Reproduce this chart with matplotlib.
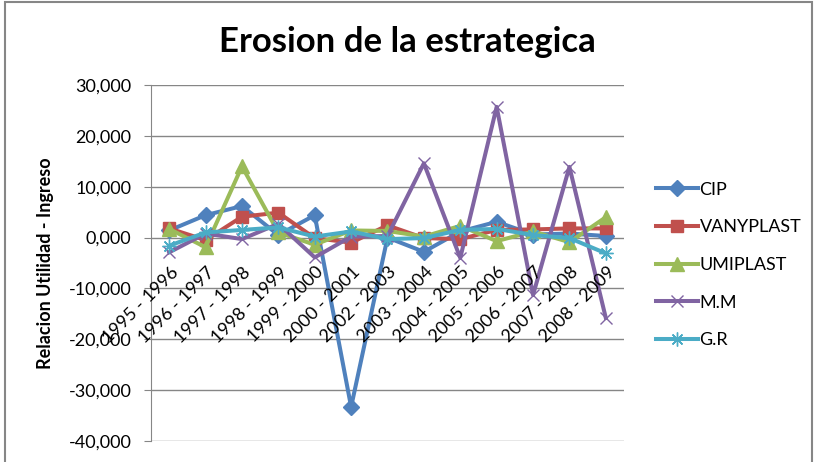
import matplotlib
matplotlib.use("Agg")
import matplotlib.pyplot as plt
from matplotlib.patches import Rectangle
from matplotlib.ticker import FuncFormatter

# datos
periodos = ["1995 - 1996", "1996 - 1997", "1997 - 1998", "1998 - 1999", "1999 - 2000",
            "2000 - 2001", "2002 - 2003", "2003 - 2004", "2004 - 2005", "2005 - 2006",
            "2006 - 2007", "2007 - 2008", "2008 - 2009"]
cip = [1.4, 4.4, 6.2, 0.5, 4.4, -33.3, 0.0, -2.8, 1.2, 3.1, 0.6, 0.8, 0.3]
vanyplast = [1.8, -0.5, 4.1, 4.9, -0.1, -1.0, 2.4, -0.1, -0.3, 1.5, 1.6, 1.8, 1.8]
umiplast = [1.7, -1.9, 14.0, 1.0, -1.4, 1.4, 1.3, 0.2, 2.3, -0.7, 1.2, -0.9, 4.0]
mm = [-2.9, 0.8, -0.3, 2.7, -3.9, 0.2, 0.3, 14.6, -4.0, 25.7, -11.3, 13.9, -15.8]
gr = [-1.6, 1.0, 1.5, 2.0, 0.2, 1.2, -0.3, -0.1, 1.5, 1.7, 0.5, -0.1, -3.1]

nombres = ["CIP", "VANYPLAST", "UMIPLAST", "M.M", "G.R"]
colores = ["#4F81BD", "#C0504D", "#9BBB59", "#8064A2", "#4BACC6"]
# estrella de Excel: aspa + linea vertical (asterisco de 8 brazos)
marcadores = ["D", "s", "^", "x", (8, 2, 0)]
tamanos = [8.5, 8, 9.5, 9, 10]

plt.rcParams['font.family'] = ["Lato", "DejaVu Sans"]

fig = plt.figure(figsize=(8.2, 4.62), dpi=100)
ax = fig.add_axes([151/820, 1 - 441/462, (624 - 151)/820, (441 - 85)/462])

x = list(range(len(periodos)))
series = [cip, vanyplast, umiplast, mm, gr]
handles = []
for vals, nombre, col, mk, ms in zip(series, nombres, colores, marcadores, tamanos):
    h, = ax.plot(x, vals, color=col, lw=2.9, marker=mk, ms=ms, mew=1.0,
                 mec=col, mfc=col, label=nombre, zorder=3)
    handles.append(h)

ax.set_xlim(-0.5, len(periodos) - 0.5)
ax.set_ylim(-40, 30)
ax.set_yticks(range(-40, 31, 10))
ax.yaxis.set_major_formatter(FuncFormatter(lambda v, p: f"{v:.3f}".replace(".", ",")))
ax.grid(axis="y", color="#868686", lw=1.0)
ax.set_axisbelow(True)
for s in ["top", "right", "bottom"]:
    ax.spines[s].set_visible(False)
ax.spines["left"].set_color("#868686")
ax.tick_params(axis="y", length=5, color="#868686", labelsize=13, pad=9)

# etiquetas de categoria junto a la linea del cero
ax.set_xticks([])
for i, p in enumerate(periodos):
    ax.annotate(p, xy=(i, 0), xycoords="data", xytext=(0.5, -19), textcoords="offset points",
                rotation=45, ha="right", va="top", rotation_mode="anchor", fontsize=13,
                annotation_clip=False)

ax.set_ylabel("Relacion Utilidad - Ingreso", fontsize=13, fontweight="bold")
ax.yaxis.set_label_coords(-0.205, 0.5)

fig.text(407/820, 1 - 42/462, "Erosion de la estrategica", ha="center", va="center",
         fontsize=25, fontweight="bold")

fig.legend(handles, nombres, loc="center left", bbox_to_anchor=(640/820, 1 - 265/462),
           frameon=False, fontsize=13, handlelength=2.3, handletextpad=0.1, labelspacing=1.2)

fig.add_artist(Rectangle((5/820, -0.1), (812 - 5)/820, 1 + 0.1 - 2/462, transform=fig.transFigure,
                         fill=False, ec="#868686", lw=1.5))

fig.savefig("out.png", dpi=100)
